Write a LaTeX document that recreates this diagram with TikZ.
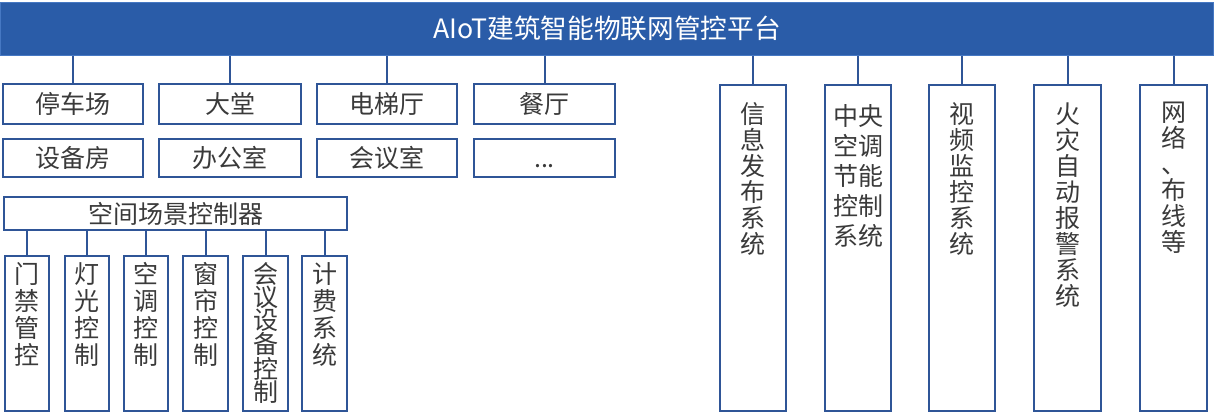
\documentclass[tikz,border=0pt]{standalone}
\usepackage{fontspec}
\setmainfont{Noto Sans CJK SC}
\usetikzlibrary{fit,calc}
\definecolor{lineblue}{RGB}{47,85,151}
\definecolor{barblue}{RGB}{42,92,168}
\definecolor{barline}{RGB}{70,120,195}
\definecolor{txt}{RGB}{58,58,58}
\begin{document}
\begin{tikzpicture}[x=0.75pt,y=-0.75pt,
  box/.style={draw=lineblue, line width=1.5pt, inner sep=0pt},
  conn/.style={draw=lineblue, line width=1.5pt},
  lbl/.style={text=txt, inner sep=0pt, font=\fontsize{18.75pt}{20pt}\selectfont},
  vtext/.style={text=txt, align=center, inner sep=0pt, anchor=north, font=\fontsize{18.75pt}{20.25pt}\selectfont},
  rtext/.style={vtext, font=\fontsize{18.75pt}{19.5pt}\selectfont}]
\useasboundingbox (0,0) rectangle (1214,415);
% top bar
\node[fill=barblue, draw=barline, line width=0.75pt, inner sep=0pt, fit={(0.5,2.5) (1213.5,55)}] (bar) {};
\node[text=white, inner sep=0pt, font=\fontsize{20pt}{22pt}\selectfont] (title) at (bar.center) {AIoT建筑智能物联网管控平台};
% row 1
\node[box, fit={(3,84) (143,124)}, label={[lbl]center:停车场}] (parking) {};
\node[box, fit={(159,84) (301,124)}, label={[lbl]center:大堂}] (lobby) {};
\node[box, fit={(317,84) (457,124)}, label={[lbl]center:电梯厅}] (elev) {};
\node[box, fit={(474,84) (615,124)}, label={[lbl]center:餐厅}] (dining) {};
% row 2
\node[box, fit={(3,139) (143,177)}, label={[lbl]center:设备房}] (equip) {};
\node[box, fit={(159,139) (301,177)}, label={[lbl]center:办公室}] (office) {};
\node[box, fit={(317,139) (457,177)}, label={[lbl]center:会议室}] (meeting) {};
\node[box, fit={(474,139) (615,177)}, label={[lbl]center:\vphantom{会}...}] (more) {};
% connectors to row 1
\foreach \n in {parking,lobby,elev,dining}
  \draw[conn] (bar.south -| \n.north) -- (\n.north);
% controller
\node[box, fit={(4,197) (347,230)}, label={[lbl]center:空间场景控制器}] (ctrl) {};
% left vertical boxes
\node[box, fit={(5,256) (49,411)}] (door) {};
\node[box, fit={(65,256) (109,411)}] (light) {};
\node[box, fit={(124,256) (168,411)}] (aircon) {};
\node[box, fit={(183,256) (228,411)}] (curtain) {};
\node[box, fit={(243,256) (288,411)}] (confdev) {};
\node[box, fit={(302,256) (347,411)}] (billing) {};
\node[vtext] (doort) at ($(door.north)+(0,7)$) {门\\禁\\管\\控};
\node[vtext] (lightt) at ($(light.north)+(0,7)$) {灯\\光\\控\\制};
\node[vtext] (aircont) at ($(aircon.north)+(0,7)$) {空\\调\\控\\制};
\node[vtext] (curtaint) at ($(curtain.north)+(0,7)$) {窗\\帘\\控\\制};
\node[vtext, font=\fontsize{18.75pt}{17.25pt}\selectfont] (confdevt) at ($(confdev.north)+(0,7)$) {会\\议\\设\\备\\控\\制};
\node[vtext] (billingt) at ($(billing.north)+(0,7)$) {计\\费\\系\\统};
\foreach \n in {door,light,aircon,curtain,confdev,billing}
  \draw[conn] (ctrl.south -| \n.north) -- (\n.north);
% right column boxes
\node[box, fit={(720,85) (786,411)}] (info) {};
\node[box, fit={(825,85) (891,411)}] (hvac) {};
\node[box, fit={(929,85) (995,411)}] (video) {};
\node[box, fit={(1034,85) (1101,411)}] (fire) {};
\node[box, fit={(1140,85) (1207,411)}] (net) {};
\node[rtext] (infot) at ($(info.north)+(0,18)$) {信\\息\\发\\布\\系\\统};
\node[vtext, font=\fontsize{18.75pt}{22.5pt}\selectfont] (hvact) at ($(hvac.north)+(0,20)$) {中央\\空调\\节能\\控制\\系统};
\node[rtext] (videot) at ($(video.north)+(0,18)$) {视\\频\\监\\控\\系\\统};
\node[rtext] (firet) at ($(fire.north)+(0,19)$) {火\\灾\\自\\动\\报\\警\\系\\统};
\node[rtext] (nett) at ($(net.north)+(0,18)$) {网\\络\\、\\布\\线\\等};
\foreach \n in {info,hvac,video,fire,net}
  \draw[conn] (bar.south -| \n.north) -- (\n.north);
\end{tikzpicture}
\end{document}
